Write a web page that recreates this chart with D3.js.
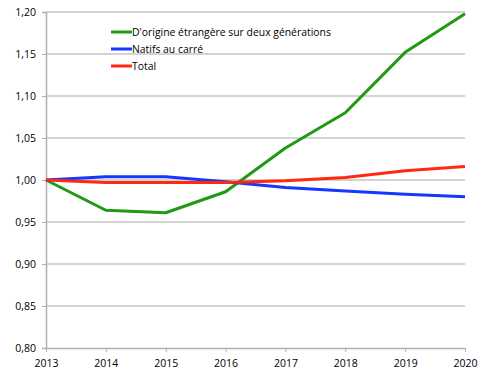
<!DOCTYPE html>
<html>
<head>
<meta charset="utf-8">
<script src="https://cdn.jsdelivr.net/npm/d3@7"></script>
<style>
  body { margin: 0; background: #fff; }
  text { font-family: "Open Sans", sans-serif; }
</style>
</head>
<body>
<div id="chart"></div>
<script>
const years = ["2013", "2014", "2015", "2016", "2017", "2018", "2019", "2020"];
const origineEtrangere = [1.000, 0.964, 0.961, 0.986, 1.038, 1.080, 1.152, 1.198];
const natifsAuCarre = [1.000, 1.004, 1.004, 0.998, 0.991, 0.987, 0.983, 0.980];
const total = [1.000, 0.997, 0.997, 0.997, 0.999, 1.003, 1.011, 1.016];
const yTicks = [0.80, 0.85, 0.90, 0.95, 1.00, 1.05, 1.10, 1.15, 1.20];

const series = [
    { name: "D'origine étrangère sur deux générations", values: origineEtrangere, color: "#1f9a12" },
    { name: "Natifs au carré", values: natifsAuCarre, color: "#1537ff" },
    { name: "Total", values: total, color: "#ff2a0e" }
];

const W = 492, H = 377;
const margin = { top: 12, right: 27, bottom: 29, left: 46 };
const width = W - margin.left - margin.right;
const height = H - margin.top - margin.bottom;

const svg = d3.select("#chart")
    .append("svg")
    .attr("width", W)
    .attr("height", H)
    .append("g")
    .attr("transform", `translate(${margin.left},${margin.top})`);

const x = d3.scalePoint()
    .domain(years)
    .range([0, width]);

const y = d3.scaleLinear()
    .domain([0.80, 1.20])
    .range([height, 0]);

const fmt = d => d3.format(".2f")(d).replace(".", ",");

// gridlines
svg.append("g")
    .selectAll("line")
    .data(yTicks.slice(1))
    .join("line")
    .attr("x1", 0)
    .attr("x2", width)
    .attr("y1", d => y(d))
    .attr("y2", d => y(d))
    .attr("stroke", "#c4c4c4")
    .attr("stroke-width", 1.5);

// y axis
const yAxis = svg.append("g")
    .call(d3.axisLeft(y).tickValues(yTicks).tickFormat(fmt).tickSize(4).tickPadding(6));
yAxis.select(".domain").attr("stroke", "#b0b0b0").attr("stroke-width", 1.5);
yAxis.selectAll(".tick line").attr("stroke", "#b0b0b0");
yAxis.selectAll("text").attr("font-size", 10.5).attr("fill", "#000");

// x axis
const xAxis = svg.append("g")
    .attr("transform", `translate(0,${height})`)
    .call(d3.axisBottom(x).tickSize(4).tickSizeOuter(0).tickPadding(8));
xAxis.select(".domain").attr("stroke", "#b0b0b0").attr("stroke-width", 1.5);
xAxis.selectAll(".tick line").attr("stroke", "#b0b0b0");
xAxis.selectAll("text").attr("font-size", 10.5).attr("fill", "#000");

// lines
const line = d3.line()
    .x((d, i) => x(years[i]))
    .y(d => y(d));

svg.selectAll(".serie")
    .data(series)
    .join("path")
    .attr("class", "serie")
    .attr("fill", "none")
    .attr("stroke", d => d.color)
    .attr("stroke-width", 3)
    .attr("stroke-linejoin", "round")
    .attr("d", d => line(d.values));

// legend
const legend = svg.append("g")
    .attr("transform", `translate(${111 - margin.left},${32 - margin.top})`);

const item = legend.selectAll("g")
    .data(series)
    .join("g")
    .attr("transform", (d, i) => `translate(0,${i * 17})`);

item.append("line")
    .attr("x1", 0)
    .attr("x2", 21)
    .attr("stroke", d => d.color)
    .attr("stroke-width", 3);

item.append("text")
    .attr("x", 21)
    .attr("dy", "0.35em")
    .attr("font-size", 10.4)
    .attr("fill", "#000")
    .text(d => d.name);
</script>
</body>
</html>
